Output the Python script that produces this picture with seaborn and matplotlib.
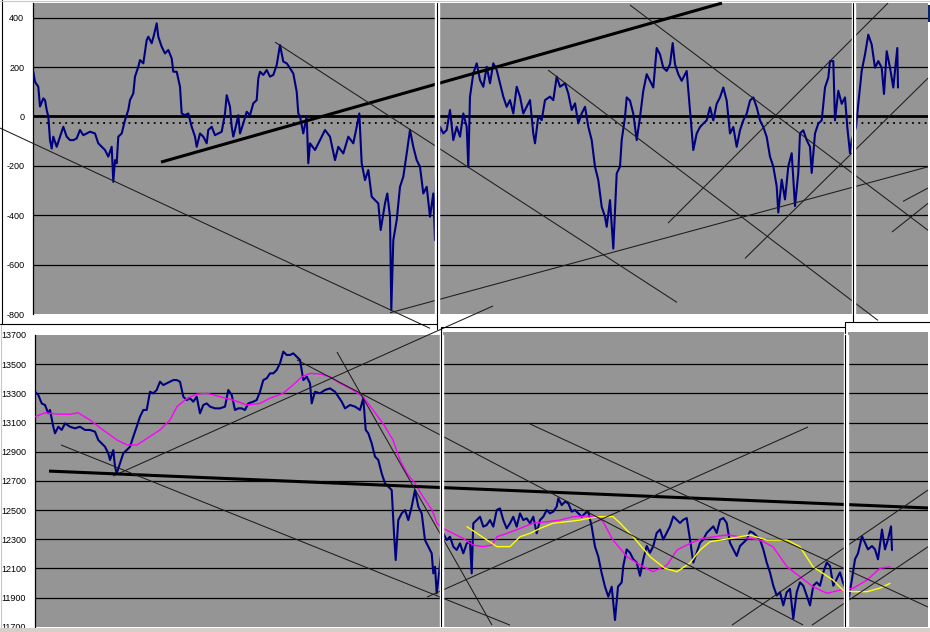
#%% Setup
import numpy as np
import pandas as pd
import seaborn as sns
import matplotlib.pyplot as plt
from matplotlib.lines import Line2D
from matplotlib.patches import Rectangle

#%% data (x = bar index along the sheet)
# top pane: spread series
top_x = [33.3, 35, 38.3, 40, 43.3, 45, 46.7, 48.3, 50, 51.7, 53.3, 56.7, 60, 63.3, 66.7, 70, 73.3, 76.7,
         80, 83.3, 86.7, 90, 95, 98.3, 101.7, 105, 108.3, 111.7, 113.3, 115, 116.7, 118.3, 121.7, 125,
         128.3, 130, 133.3, 135, 138.3, 140, 143.3, 146.7, 148.3, 151.7, 154, 156.7, 158.3, 161.7, 165,
         168.3, 171.7, 173.3, 176.7, 180, 181.7, 185, 188.3, 191.7, 195, 196.7, 200, 203.3, 206.7, 208.3,
         211.7, 215, 218.3, 221.7, 225, 226.7, 230, 231.7, 233.3, 235, 238.3, 240, 243.3, 246.7, 250,
         253.3, 256.7, 258.3, 260, 263.3, 266.7, 270, 273.3, 276.7, 280, 283.3, 286.7, 290, 293.3, 296.7,
         298.3, 300, 303.3, 306.7, 308.3, 310, 315, 320, 325, 330, 335, 338.3, 343.3, 348.3, 353.3,
         356.7, 359.3, 361.7, 365, 368.3, 371.7, 375, 378.3, 380.7, 385, 387.3, 390, 391.3, 393.3, 396.7,
         400, 403.3, 406.7, 410, 413.3, 416.7, 420, 423.3, 426.7, 430, 433.3, 435, 436,
         440, 443.3, 446.7, 450, 453.3, 456.7, 460, 463.3, 466.7, 468.3, 470, 473.3, 476.7, 480, 483.3,
         486.7, 490, 493.3, 496.7, 500, 503.3, 506.7, 510, 513.3, 516.7, 520, 523.3, 526.7, 530, 533.3,
         535, 538.3, 541.7, 545, 550, 553.3, 556.7, 560, 565, 568.3, 571.7, 575, 578.3, 581.7, 585,
         588.3, 591.7, 595, 598.3, 601.7, 605, 606.7, 610, 613.3, 616.7, 620, 621.7, 625, 626.7, 630,
         633.3, 636.7, 640, 643.3, 646.7, 650, 653.3, 656.7, 660, 663.3, 666.7, 670, 672.7, 675, 678.3,
         681.7, 686.7, 690, 693.3, 696.7, 700, 703.3, 706.7, 710, 713.3, 716.7, 720, 723.3, 726.7, 730,
         733.3, 736.7, 740, 743.3, 746.7, 750, 753.3, 756.7, 760, 763.3, 766.7, 770, 773.3, 776.7, 778.3,
         781.7, 785, 788.3, 791.7, 795, 798.3, 800, 803.3, 806.7, 810, 811.7, 815, 818.3, 821.7, 825,
         828.3, 830, 833.3, 835, 838.3, 841.7, 845, 847.3, 850, 851.7,
         856, 858.3, 861.7, 865, 868.3, 871.7, 875, 878.3, 881.7, 884, 886.7, 890, 893.3, 895, 897.3, 898]
top_v = [181, 140, 120, 40, 73, 66, 26, 0, -96, -130, -82, -123, -82, -42, -82, -96, -96, -89,
         -55, -76, -69, -62, -69, -109, -123, -136, -163, -123, -265, -177, -190, -82, -69, -15,
         26, 66, 93, 161, 201, 228, 215, 309, 323, 296, 330, 377, 323, 282, 255,
         269, 235, 181, 181, 120, 12, 5, 12, -42, -82, -123, -69, -82, -109, -55,
         -42, -76, -69, -62, 12, 86, 39, -42, -82, -55, 5, -69, -28, 19, 5,
         53, 66, 154, 181, 168, 188, 161, 168, 208, 289, 222, 215, 195, 174, 100,
         12, 0, -69, 0, -190, -109, -136, -96, -55, -82, -177, -123, -150, -82, -109,
         -42, 12, -190, -258, -217, -325, -339, -352, -460, -352, -312, -406, -785, -501, -420,
         -285, -244, -150, -55, -123, -177, -204, -312, -285, -406, -312, -501, -231,
         -42, -69, -55, 26, -96, -42, -82, 12, -42, -204, 80, 174, 215, 147, 120,
         201, 134, 215, 188, 134, 80, 39, 66, 12, 120, 80, 12, 39, 66, -69,
         -109, 0, -15, 66, 80, 66, 161, 120, 134, 93, 26, 53, -28, 12, 39,
         -42, -96, -204, -258, -366, -406, -447, -339, -535, -231, -203, -96, -3, 77, 64,
         11, -96, -3, 104, 171, 144, 117, 277, 251, 197, 184, 211, 297, 211, 171,
         144, 184, 24, -136, -69, -43, -29, -16, 37, -16, 51, 77, 117, 64, -69,
         -43, -123, -56, -16, 11, 64, 77, 37, -16, -43, -83, -163, -203, -283, -389,
         -256, -336, -203, -149, -363, -229, -69, -56, -96, -123, -229, -69, -29, -16, 117,
         157, 224, 224, -16, 104, 51, 77, -43, -149, -96,
         -43, 51, 184, 251, 331, 291, 197, 224, 197, 91, 264, 197, 117, 184, 277, 117]
dotted_level = -28

# bottom pane: index level + two moving averages
bot_x = [35, 38.3, 41.7, 45, 48.3, 50, 53.3, 55, 58.3, 61.7, 65, 70, 75, 80, 85, 90, 95, 98.3, 101.7,
         105, 108.3, 110, 113.3, 115, 116.7, 120, 123.3, 126.7, 130, 133.3, 136.7, 140, 143.3, 146.7,
         150, 153.3, 156.7, 160, 163.3, 166.7, 170, 173.3, 176.7, 180, 183.3, 186.7, 190, 193.3, 196.7,
         200, 203.3, 206.7, 210, 215, 220, 225, 228.3, 231.7, 235, 238.3, 241.7, 245, 248.3, 253.3,
         256.7, 260, 263.3, 266.7, 270, 273.3, 276.7, 280, 283.3, 286.7, 290, 293.3, 296.7, 300, 303.3,
         306.7, 310, 311.7, 315, 320, 325, 330, 335, 338.3, 341.7, 345, 350, 355, 360, 363.3, 365.7,
         368.3, 371.7, 375, 378.3, 381.7, 385, 388.3, 391.7, 394, 395.7, 398.3, 401.7, 405, 408.3,
         411.7, 415, 418.3, 421.7, 425, 428.3, 431.7, 433.3, 435, 436.7, 438.3,
         443.3, 446.7, 450, 453.3, 456.7, 460, 463.3, 466.7, 470, 471.7, 473.3, 476.7, 480, 483.3,
         486.7, 490, 493.3, 496.7, 500, 503.3, 506.7, 510, 513.3, 516.7, 520, 523.3, 526.7, 530, 533.3,
         536.7, 540, 543.3, 546.7, 550, 553.3, 556.7, 558.3, 561.7, 565, 568.3, 571.7, 575, 578.3,
         581.7, 585, 588.3, 591.7, 595, 598.3, 601.7, 605, 608.3, 611.7, 615, 618, 621.7, 623.3, 626.7,
         630, 633.3, 636.7, 640, 643.3, 646.7, 650, 653.3, 656.7, 660, 663.3, 666.7, 670, 673.3, 676.7,
         680, 683.3, 686.7, 690, 693.3, 696.7, 700, 703.3, 706.7, 710, 713.3, 716.7, 720, 723.3, 726.7,
         730, 733.3, 736.7, 740, 743.3, 746.7, 750, 753.3, 756.7, 760, 763.3, 766.7, 770, 773.3, 776.7,
         780, 783.3, 786.7, 790, 793.3, 796.7, 800, 803.3, 806.7, 810, 813.3, 816.7, 820, 823.3, 826.7,
         830, 833.3, 836.7, 840, 843,
         849, 852, 855, 858, 862, 865, 868, 872, 875, 878, 882, 885, 888, 891, 892]
bot_v = [13311, 13289, 13231, 13220, 13163, 13186, 13071, 13026, 13071, 13049, 13094, 13071, 13060,
         13071, 13049, 13049, 13037, 12980, 12957, 12934, 12889, 12843, 12911, 12797, 12751, 12820,
         12889, 12911, 12934, 13003, 13071, 13140, 13186, 13186, 13311, 13300, 13323, 13380, 13357,
         13369, 13380, 13391, 13391, 13380, 13277, 13254, 13266, 13243, 13277, 13163, 13220, 13231,
         13209, 13197, 13197, 13209, 13323, 13289, 13186, 13197, 13197, 13186, 13231, 13243, 13254,
         13311, 13391, 13403, 13437, 13437, 13460, 13506, 13586, 13563, 13563, 13574, 13551, 13529,
         13391, 13414, 13369, 13231, 13311, 13300, 13323, 13334, 13311, 13277, 13243, 13197, 13220,
         13209, 13186, 13266, 13049, 13026, 12957, 12866, 12843, 12751, 12683, 12660, 12637, 12340,
         12157, 12431, 12477, 12500, 12431, 12523, 12637, 12523, 12477, 12294, 12249, 12203, 12066,
         12111, 11929, 12020,
         12340, 12294, 12317, 12249, 12226, 12271, 12203, 12271, 12283, 12066, 12409, 12431, 12454,
         12386, 12397, 12431, 12386, 12500, 12511, 12431, 12374, 12409, 12454, 12386, 12477, 12431,
         12443, 12409, 12454, 12340, 12431, 12454, 12500, 12477, 12489, 12523, 12580, 12534, 12557,
         12546, 12489, 12500, 12477, 12454, 12477, 12489, 12386, 12249, 12180, 12066, 11974, 11906,
         11974, 11746, 11974, 12004, 12117, 12230, 12207, 12162, 12140, 12049, 12162, 12253, 12207,
         12253, 12343, 12366, 12298, 12343, 12388, 12456, 12433, 12411, 12433, 12445, 12298, 12140,
         12207, 12275, 12298, 12343, 12366, 12388, 12343, 12433, 12445, 12411, 12275, 12230, 12185,
         12253, 12275, 12298, 12354, 12343, 12320, 12298, 12230, 12140, 12072, 11981, 11914, 11936,
         11846, 11936, 11959, 11755, 11936, 12004, 11981, 11914, 11846, 11981, 12004, 11981, 12072,
         12140, 12117, 11981, 12027, 12072, 12004,
         11906, 12027, 12162, 12203, 12320, 12275, 12230, 12253, 12230, 12162, 12366, 12230, 12298,
         12388, 12226]

ma_long_x = [35, 45, 57, 70, 78, 90, 103, 117, 127, 137, 147, 160, 170, 177, 187, 197, 207, 220, 233,
             247, 260, 270, 283, 293, 302, 310, 320, 330, 340, 350, 363, 373, 383, 393, 400, 407, 415,
             423, 432, 437, 443, 453, 463, 473, 483, 492, 497, 507, 520, 533, 547, 560, 573, 587, 597,
             603, 613, 627, 640, 653, 667, 677, 690, 703, 727, 740, 760, 773, 787, 800, 813, 827, 840,
             853, 867, 880, 890]
ma_long_v = [13140, 13167, 13158, 13156, 13167, 13117, 13049, 12980, 12946, 12946, 12991, 13049, 13117,
             13209, 13266, 13295, 13300, 13277, 13254, 13220, 13231, 13266, 13300, 13357, 13414, 13437,
             13433, 13414, 13369, 13334, 13277, 13186, 13094, 12980, 12843, 12751, 12683, 12591, 12500,
             12409, 12374, 12340, 12306, 12260, 12249, 12260, 12317, 12340, 12374, 12409, 12420, 12431,
             12454, 12459, 12454, 12420, 12294, 12180, 12123, 12077, 12123, 12226, 12271, 12306, 12329,
             12317, 12294, 12248, 12111, 12043, 11974, 11929, 11951, 11963, 12020, 12100, 12111]

ma_short_x = [467, 477, 487, 497, 510, 520, 530, 540, 553, 567, 580, 593, 600, 613, 620, 633, 650, 665,
              677, 690, 700, 710, 733, 750, 767, 787, 800, 813, 833, 843, 853, 867, 880, 890]
ma_short_v = [12386, 12340, 12294, 12249, 12249, 12317, 12340, 12374, 12409, 12420, 12431, 12449, 12454,
              12454, 12411, 12317, 12180, 12100, 12077, 12137, 12226, 12283, 12308, 12329, 12294, 12294,
              12248, 12111, 12020, 11951, 11940, 11940, 11965, 11997]

# hand drawn trend lines: (x0, v0, x1, v1, thick)
top_trends = [(0, -47, 430, -858, False), (161, -185, 722, 459, True), (275, 301, 677, -753, False),
              (630, 451, 928, -461, False), (548, 188, 878, -826, False), (390, -795, 928, -204, False),
              (668, -432, 888, 459, False), (745, -575, 928, 155, False), (903, -344, 928, -290, False),
              (892, -468, 928, -352, False)]
bot_trends = [(113, 12733, 493, 13899, False), (49, 12767, 928, 12514, True), (61, 12946, 510, 11711, False),
              (297, 13529, 803, 11712, False), (427, 11903, 808, 13069, False), (530, 13090, 928, 11835, False),
              (337, 13583, 492, 11711, False), (732, 11711, 928, 12637, False), (812, 11711, 928, 12248, False)]

top_ticks = [400, 200, 0, -200, -400, -600, -800]
top_ticklabels = ['400', '200', '0', '-200', '-400', '-600', '-800']
bot_ticks = [13700, 13500, 13300, 13100, 12900, 12700, 12500, 12300, 12100, 11900, 11700]
bot_ticklabels = [str(t) for t in bot_ticks]

#%% figure
sns.set_style("white")
plt.rcParams['font.family'] = ['Liberation Sans', 'DejaVu Sans']

W, H = 930, 632
def fr(x0, y0, x1, y1):
    # pixel box -> figure fraction rect
    return [x0 / W, 1 - y1 / H, (x1 - x0) / W, (y1 - y0) / H]

fig = plt.figure(figsize=(9.3, 6.32), dpi=100)
GRAY = '#959595'
NAVY = '#00007F'

ax_top = fig.add_axes(fr(33.3, 3.3, 928, 314))
ax_bot = fig.add_axes(fr(35, 335, 928, 626.7))

for ax in (ax_top, ax_bot):
    ax.set_facecolor(GRAY)
    for s in ['top', 'right', 'bottom']:
        ax.spines[s].set_visible(False)
    ax.spines['left'].set_color('black')
    ax.spines['left'].set_linewidth(0.9)
    ax.set_xticks([])
    ax.tick_params(axis='y', length=3.5, width=0.8, pad=3, labelsize=6.5, direction='out', colors='black')

# top pane
ax_top.set_xlim(33.3, 928)
ax_top.set_ylim(-800, 458)
for t in top_ticks[:-1]:
    if t == 0:
        ax_top.axhline(t, color='black', lw=2.0, zorder=1)
    else:
        ax_top.axhline(t, color='black', lw=0.9, zorder=1)
ax_top.hlines(dotted_level, 40, 928, colors='black', lw=1.3, linestyles=(0, (1, 2.5)), zorder=1)
sns.lineplot(x=top_x, y=top_v, ax=ax_top, color=NAVY, linewidth=1.5, estimator=None, sort=False, zorder=3)
for x0, v0, x1, v1, thick in top_trends:
    ax_top.plot([x0, x1], [v0, v1], color='black' if thick else '#1c1c1c', lw=2.2 if thick else 0.75,
                clip_on=False, zorder=4, solid_capstyle='butt')
ax_top.set_yticks(top_ticks)
ax_top.set_yticklabels(top_ticklabels)

# bottom pane
ax_bot.set_xlim(35, 928)
ax_bot.set_ylim(11700, 13700)
for t in bot_ticks[1:-1]:
    ax_bot.axhline(t, color='black', lw=0.9, zorder=1)
sns.lineplot(x=bot_x, y=bot_v, ax=ax_bot, color=NAVY, linewidth=1.5, estimator=None, sort=False, zorder=3)
sns.lineplot(x=ma_long_x, y=ma_long_v, ax=ax_bot, color='#FF00FF', linewidth=1.0, estimator=None, sort=False, zorder=3)
sns.lineplot(x=ma_short_x, y=ma_short_v, ax=ax_bot, color='#FFFF00', linewidth=1.0, estimator=None, sort=False, zorder=3)
for x0, v0, x1, v1, thick in bot_trends:
    ax_bot.plot([x0, x1], [v0, v1], color='black' if thick else '#1c1c1c', lw=2.2 if thick else 0.75,
                clip_on=False, zorder=4, solid_capstyle='butt')
ax_bot.set_yticks(bot_ticks)
ax_bot.set_yticklabels(bot_ticklabels)

for ax in (ax_top, ax_bot):
    ax.set_xlabel('')
    ax.set_ylabel('')

# white gaps between the chart windows
ax_top.axvspan(435, 439.3, color='white', zorder=10)
ax_top.axvline(437, color='black', lw=0.8, zorder=11)
ax_top.axvspan(852, 855.3, color='white', zorder=10)
ax_top.axvline(852.5, color='black', lw=0.8, zorder=11)
ax_bot.axvspan(439.5, 443.3, color='white', zorder=10)
ax_bot.axvline(441, color='black', lw=0.8, zorder=11)
ax_bot.axvspan(844.3, 848.3, color='white', zorder=10)
ax_bot.axvline(844.6, color='black', lw=0.8, zorder=11)

#%% window frame bits
def fline(x0, y0, x1, y1, c='black', lw=0.8):
    fig.add_artist(Line2D([x0 / W, x1 / W], [1 - y0 / H, 1 - y1 / H], color=c, lw=lw,
                          transform=fig.transFigure, zorder=20))

fline(1.5, 0, 1.5, 324)
fline(0, 1.2, 930, 1.2, c='#c8c8c8')
fline(0, 324, 437, 324)
fline(437, 314, 437, 329)
fline(441, 327, 845, 327)
fline(441, 327, 441, 335)
fline(844.6, 322, 930, 322)
fline(844.6, 322, 844.6, 333)
fline(852.5, 314, 852.5, 322)
fline(0.5, 325, 0.5, 632, c='#c8c8c8', lw=0.8)

fig.add_artist(Rectangle((443.3 / W, 1 - 335 / H), (844.3 - 443.3) / W, 3 / H, transform=fig.transFigure,
                         facecolor=GRAY, edgecolor='none', zorder=2))
fig.add_artist(Rectangle((848.3 / W, 1 - 335 / H), (928 - 848.3) / W, 3.3 / H, transform=fig.transFigure,
                         facecolor=GRAY, edgecolor='none', zorder=2))
fig.add_artist(Rectangle((928 / W, 1 - 22 / H), 2 / W, 17 / H, transform=fig.transFigure,
                         facecolor='#0a246a', edgecolor='none', zorder=21))
# sheet tab strip along the bottom
fig.add_artist(Rectangle((0, 0), 1, 4.5 / H, transform=fig.transFigure,
                         facecolor='#d4d0c8', edgecolor='none', zorder=21))
fline(0, 627.5, 930, 627.5, c='#808080', lw=0.6)

fig.savefig('out.png', dpi=100)
